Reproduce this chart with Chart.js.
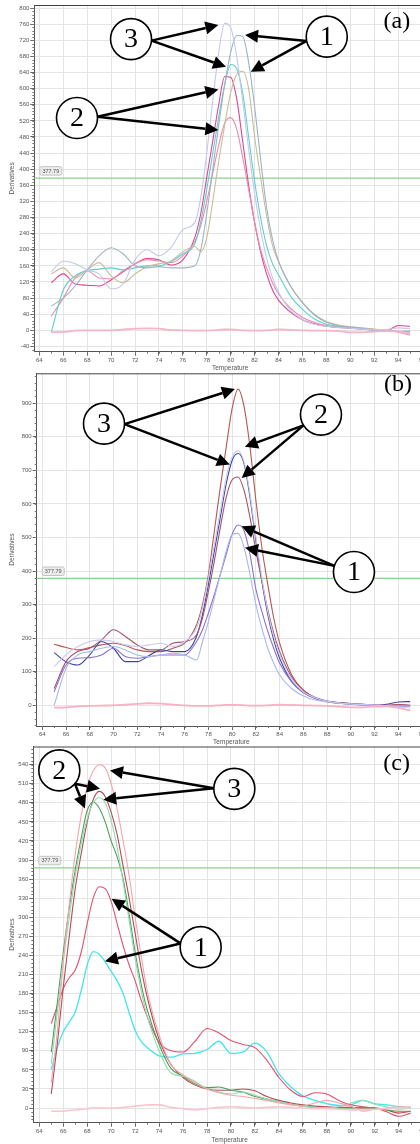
<!DOCTYPE html>
<html>
<head>
<meta charset="utf-8">
<script src="https://cdn.jsdelivr.net/npm/chart.js@4.4.0/dist/chart.umd.min.js"></script>
<style>
  html, body { margin: 0; padding: 0; background: #fff; overflow: hidden; }
  #wrap { position: relative; width: 420px; height: 1144px; overflow: hidden; }
  .panel { position: absolute; left: 0; }
  .panel canvas { display: block; }
</style>
</head>
<body>
<div id="wrap">
  <div class="panel" style="top:0"><canvas id="chartA" width="426" height="372"></canvas></div>
  <div class="panel" style="top:372px"><canvas id="chartB" width="426" height="374"></canvas></div>
  <div class="panel" style="top:746px"><canvas id="chartC" width="426" height="398"></canvas></div>
</div>
<script>
// ---- data ----
const THRESHOLD = 377.79;
const xTicks = [64, 66, 68, 70, 72, 74, 76, 78, 80, 82, 84, 86, 88, 90, 92, 94, 96];
const yTicksA = [-40, 0, 40, 80, 120, 160, 200, 240, 280, 320, 360, 400, 440, 480, 520, 560, 600, 640, 680, 720, 760, 800];
const yTicksB = [0, 100, 200, 300, 400, 500, 600, 700, 800, 900];
const yTicksC = [0, 30, 60, 90, 120, 150, 180, 210, 240, 270, 300, 330, 360, 390, 420, 450, 480, 510, 540];

// temperatures for panels (a) and (b)
const tempAB = [65, 66, 67, 68, 69, 70, 71, 72, 73, 74, 75, 76, 77, 77.5, 78, 78.5, 79, 79.5, 80, 80.5, 81, 81.5, 82, 82.5, 83, 83.5, 84, 85, 86, 87, 88, 89, 90, 91, 92, 93, 94, 95];
// temperatures for panel (c)
const tempC = [65, 65.5, 66, 66.5, 67, 67.5, 68, 68.5, 69, 69.5, 70, 70.5, 71, 71.5, 72, 72.5, 73, 74, 75, 76, 77, 78, 79, 80, 81, 82, 83, 84, 85, 86, 87, 88, 89, 90, 91, 92, 93, 94, 95];

// panel (a)
const aLavender = [145, 172, 165, 150, 140, 103, 115, 175, 200, 185, 205, 250, 268, 330, 440, 570, 690, 762, 752, 680, 570, 450, 340, 250, 180, 130, 95, 50, 27, 15, 10, 7, 5, 3, 2, 2, 6, 4];
const aSage = [60, 80, 110, 150, 185, 205, 190, 160, 155, 158, 155, 155, 160, 200, 290, 400, 510, 610, 690, 732, 730, 665, 555, 425, 305, 225, 172, 110, 68, 38, 20, 12, 8, 5, 2, 0, -2, -3];
const aKhaki = [140, 155, 130, 150, 168, 135, 118, 140, 158, 165, 172, 195, 208, 195, 230, 320, 420, 510, 590, 635, 643, 600, 480, 380, 285, 210, 170, 110, 70, 40, 22, 13, 9, 6, 3, 0, -3, -5];
const aCyan = [-5, 100, 135, 148, 152, 155, 150, 155, 160, 160, 170, 190, 215, 270, 350, 440, 530, 610, 660, 650, 590, 480, 370, 280, 210, 165, 138, 85, 52, 28, 15, 10, 6, 3, 0, -2, -3, -2];
const aMagenta = [118, 140, 115, 112, 110, 125, 145, 165, 178, 175, 162, 175, 230, 290, 380, 470, 560, 630, 628, 575, 470, 360, 268, 195, 140, 100, 75, 45, 26, 16, 10, 7, 5, 3, 1, -2, 12, 10];
const aPink = [35, 80, 130, 148, 130, 128, 148, 165, 175, 172, 168, 185, 220, 260, 320, 390, 460, 515, 528, 500, 430, 350, 268, 200, 155, 118, 90, 55, 32, 20, 12, 9, 7, 5, 2, 0, -5, -12];
const aBase = [-5, -4, -1, 0, 0, 0, 2, 4, 5, 4, 1, 0, -1, -1, -1, 0, 1, 2, 2, 1, 0, -1, -1, -1, 0, 1, 2, 1, 0, -1, -1, -2, -5, -5, -3, -2, -3, -8];

// panel (b)
const bBrown = [182, 172, 165, 172, 180, 185, 178, 165, 160, 160, 170, 185, 240, 300, 390, 520, 650, 770, 885, 942, 890, 770, 610, 470, 360, 260, 185, 92, 45, 22, 12, 8, 5, 3, 1, 0, 2, 0];
const bMauve = [50, 130, 160, 170, 195, 225, 205, 180, 165, 165, 185, 190, 210, 260, 340, 430, 530, 620, 672, 680, 640, 560, 460, 370, 285, 215, 160, 85, 45, 23, 13, 8, 5, 3, 1, 0, 2, 0];
const bNavy = [157, 130, 120, 150, 190, 170, 130, 130, 148, 165, 160, 160, 205, 270, 360, 460, 560, 660, 730, 750, 720, 620, 490, 370, 270, 195, 140, 72, 38, 20, 11, 6, 3, 1, -1, 3, 10, 11];
const bLight = [115, 150, 175, 190, 195, 190, 180, 175, 180, 185, 175, 190, 230, 290, 380, 480, 580, 680, 740, 758, 725, 630, 500, 380, 280, 205, 150, 78, 40, 22, 12, 7, 4, 2, 0, -2, -5, -8];
const bPurple = [40, 120, 140, 142, 150, 170, 145, 140, 145, 150, 150, 150, 190, 225, 275, 330, 390, 450, 510, 537, 520, 450, 345, 280, 220, 170, 125, 70, 38, 22, 12, 7, 4, 2, 0, -2, -3, -3];
const bPeriwinkle = [0, 110, 150, 160, 170, 175, 165, 150, 145, 150, 155, 150, 135, 190, 250, 320, 390, 460, 508, 512, 470, 390, 300, 230, 170, 125, 90, 50, 28, 16, 10, 6, 4, 2, 0, -1, -2, -2];
const bBase = [-7, -6, -3, -2, -1, 0, 2, 4, 6, 5, 2, 0, -2, -2, -2, -1, 0, 1, 1, 1, 0, -1, -1, -1, 0, 1, 2, 1, 0, -1, -2, -4, -6, -6, -4, -3, -8, -15];

// panel (c)
const cPinkLight = [40, 120, 230, 320, 400, 460, 505, 530, 540, 535, 510, 470, 420, 365, 300, 240, 185, 115, 68, 52, 40, 30, 24, 20, 18, 15, 12, 8, 5, 3, 8, 12, 8, 3, -5, -2, 0, 2, 2];
const cDarkRed = [22, 100, 190, 270, 345, 400, 450, 485, 498, 490, 465, 430, 380, 330, 275, 220, 175, 108, 68, 48, 36, 30, 28, 28, 30, 27, 18, 12, 8, 5, 3, 2, 1, 1, 0, 0, -3, -8, -5];
const cMint = [70, 150, 230, 300, 365, 415, 455, 480, 488, 480, 452, 410, 355, 295, 235, 185, 145, 90, 55, 50, 42, 30, 25, 22, 25, 20, 14, 10, 6, 3, 1, 0, 2, 8, 12, 6, 2, -2, 0];
const cGreen = [88, 165, 245, 315, 375, 425, 468, 481, 472, 450, 420, 395, 360, 305, 245, 195, 155, 100, 62, 50, 38, 32, 33, 28, 25, 18, 14, 10, 6, 3, 1, 0, 0, 0, 1, 0, -3, -5, -5];
const cRed = [133, 160, 188, 205, 217, 245, 290, 330, 348, 345, 325, 290, 255, 225, 200, 170, 144, 103, 90, 88, 105, 125, 118, 106, 100, 95, 75, 48, 28, 18, 24, 22, 12, 5, 2, 0, -6, -13, -8];
const cCyan = [60, 95, 120, 135, 151, 185, 225, 246, 242, 230, 215, 200, 180, 150, 122, 105, 95, 82, 80, 85, 86, 92, 105, 86, 88, 102, 88, 54, 33, 19, 12, 7, 4, 5, 12, 7, 5, 2, 0];
const cBase = [-5, -5, -5, -4, -3, -2, -1, 0, 0, 0, 0, 0, 1, 2, 3, 4, 5, 5, 1, -1, -3, -1, 1, 2, 1, 0, 1, 2, 1, 0, -1, -1, -2, -3, -3, -2, -1, 0, 1];

// annotation marks, in data units: circle centres and arrow tips
const annotA = {
  label: {t: 93.9, v: 766, text: '(a)'},
  circles: [
    {t: 71.67, v: 723, text: '3', tips: [[78.97, 758], [79.61, 654]]},
    {t: 67.15, v: 527, text: '2', tips: [[78.97, 598], [78.97, 497]]},
    {t: 88.03, v: 729, text: '1', tips: [[81.2, 733], [81.68, 642]]}
  ]
};
const annotB = {
  label: {t: 93.97, v: 954, text: '(b)'},
  circles: [
    {t: 69.2, v: 839, text: '3', tips: [[80.23, 942], [79.8, 717]]},
    {t: 87.48, v: 866, text: '2', tips: [[81.07, 770], [80.8, 677]]},
    {t: 90.26, v: 397, text: '1', tips: [[80.8, 533], [81.08, 469]]}
  ]
};
const annotC = {
  label: {t: 93.83, v: 541, text: '(c)'},
  circles: [
    {t: 65.67, v: 531, text: '2', tips: [[69.07, 502], [67.81, 471]]},
    {t: 80.28, v: 502, text: '3', tips: [[69.9, 531], [69.34, 485]]},
    {t: 77.47, v: 253, text: '1', tips: [[70.04, 329], [69.48, 231]]}
  ]
};

const TICK_FONT = {family: 'Liberation Sans', size: 6};
const TITLE_FONT = {family: 'Liberation Sans', size: 6.5};

function drawArrow(ctx, x1, y1, x2, y2) {
    const ang = Math.atan2(y2 - y1, x2 - x1);
    const head = 13, hw = 6.5;
    const bx = x2 - head * Math.cos(ang), by = y2 - head * Math.sin(ang);
    ctx.beginPath();
    ctx.moveTo(x1, y1);
    ctx.lineTo(bx, by);
    ctx.stroke();
    ctx.beginPath();
    ctx.moveTo(x2, y2);
    ctx.lineTo(bx + hw * Math.sin(ang), by - hw * Math.cos(ang));
    ctx.lineTo(bx - hw * Math.sin(ang), by + hw * Math.cos(ang));
    ctx.closePath();
    ctx.fill();
}

// threshold line, frame, minor ticks and the circled-number notes
const overlay = {
    id: 'overlay',
    beforeDatasetsDraw(chart, args, opts) {
        const {ctx, chartArea: a, scales: {x, y}} = chart;
        const ty = y.getPixelForValue(THRESHOLD);
        ctx.save();
        ctx.strokeStyle = '#8cd08c';
        ctx.lineWidth = 1.2;
        ctx.beginPath();
        ctx.moveTo(a.left, ty);
        ctx.lineTo(a.right, ty);
        ctx.stroke();
        ctx.restore();
    },
    afterDatasetsDraw(chart, args, opts) {
        const {ctx, chartArea: a, scales: {x, y}} = chart;
        ctx.save();
        // frame top
        ctx.strokeStyle = '#444';
        ctx.lineWidth = 1;
        ctx.beginPath();
        ctx.moveTo(a.left, a.top + 0.5);
        ctx.lineTo(a.right, a.top + 0.5);
        ctx.stroke();
        // minor ticks on y
        ctx.strokeStyle = '#777';
        const step = opts.minorY;
        for (let v = Math.ceil(y.min / step) * step; v <= y.max; v += step) {
            const py = Math.round(y.getPixelForValue(v)) + 0.5;
            ctx.beginPath();
            ctx.moveTo(a.left - 2, py);
            ctx.lineTo(a.left, py);
            ctx.stroke();
        }
        for (let v = Math.ceil(x.min); v <= x.max; v += 1) {
            const px = Math.round(x.getPixelForValue(v)) + 0.5;
            ctx.beginPath();
            ctx.moveTo(px, a.bottom);
            ctx.lineTo(px, a.bottom + 2);
            ctx.stroke();
        }
        // threshold value box
        const ty = y.getPixelForValue(THRESHOLD);
        ctx.fillStyle = '#ececec';
        ctx.strokeStyle = '#c4c4c4';
        ctx.beginPath();
        ctx.roundRect(a.left + 5.5, ty - 11.5, 22, 8.5, 1.5);
        ctx.fill();
        ctx.stroke();
        ctx.fillStyle = '#555';
        ctx.font = '5.5px "Liberation Sans"';
        ctx.textAlign = 'center';
        ctx.textBaseline = 'middle';
        ctx.fillText(THRESHOLD.toFixed(2), a.left + 16.5, ty - 7);
        ctx.restore();
    },
    afterDraw(chart, args, opts) {
        const {ctx, scales: {x, y}} = chart;
        const note = opts.annot;
        const r = 20.5;
        ctx.save();
        ctx.fillStyle = '#000';
        ctx.strokeStyle = '#000';
        note.circles.forEach(c => {
            const cx = x.getPixelForValue(c.t), cy = y.getPixelForValue(c.v);
            const tips = c.tips.map(p => [x.getPixelForValue(p[0]), y.getPixelForValue(p[1])]);
            const mx = tips.reduce((s, p) => s + p[0], 0) / tips.length;
            const my = tips.reduce((s, p) => s + p[1], 0) / tips.length;
            const ang = Math.atan2(my - cy, mx - cx);
            const sx = cx + r * Math.cos(ang), sy = cy + r * Math.sin(ang);
            ctx.lineWidth = 2.5;
            tips.forEach(p => drawArrow(ctx, sx, sy, p[0], p[1]));
            ctx.beginPath();
            ctx.arc(cx, cy, r, 0, Math.PI * 2);
            ctx.fillStyle = '#fff';
            ctx.fill();
            ctx.lineWidth = 1.6;
            ctx.stroke();
            ctx.fillStyle = '#000';
            ctx.font = '28px "Liberation Serif"';
            ctx.textAlign = 'center';
            ctx.textBaseline = 'middle';
            ctx.fillText(c.text, cx, cy + 1);
        });
        ctx.font = '24px "Liberation Serif"';
        ctx.textAlign = 'center';
        ctx.textBaseline = 'middle';
        ctx.fillText(note.label.text, x.getPixelForValue(note.label.t), y.getPixelForValue(note.label.v));
        ctx.restore();
    }
};

function makeChart(id, p) {
    const datasets = p.series.map(s => ({
        data: p.temps.map((t, i) => ({x: t, y: s.values[i]})),
        borderColor: s.color,
        borderWidth: s.width || 1.1,
        pointRadius: 0,
        fill: false,
        cubicInterpolationMode: 'monotone'
    }));
    return new Chart(document.getElementById(id), {
        type: 'line',
        data: {datasets: datasets},
        options: {
            responsive: false,
            animation: false,
            devicePixelRatio: 1,
            events: [],
            layout: {padding: {top: p.padTop, left: 0, right: 0, bottom: 0}},
            plugins: {
                legend: {display: false},
                tooltip: {enabled: false},
                overlay: {annot: p.annot, minorY: p.minorY}
            },
            scales: {
                x: {
                    type: 'linear',
                    min: p.xMin,
                    max: p.xMax,
                    afterBuildTicks: s => { s.ticks = xTicks.map(v => ({value: v})); },
                    afterFit: s => { s.height = p.bottomH; s.paddingLeft = 0; s.paddingRight = 0; },
                    grid: {color: '#e4e4e4', tickColor: '#666', tickLength: 4},
                    border: {color: '#555'},
                    ticks: {font: TICK_FONT, color: '#555', padding: 1, maxRotation: 0, autoSkip: false},
                    title: {display: true, text: 'Temperature', font: TITLE_FONT, color: '#555', padding: {top: 0, bottom: 0}}
                },
                y: {
                    type: 'linear',
                    min: p.yMin,
                    max: p.yMax,
                    afterBuildTicks: s => { s.ticks = p.yTicks.map(v => ({value: v})); },
                    afterFit: s => { s.width = p.leftW; s.paddingTop = 0; s.paddingBottom = 0; },
                    grid: {color: '#e4e4e4', tickColor: '#666', tickLength: 4},
                    border: {color: '#555'},
                    ticks: {font: TICK_FONT, color: '#555', padding: 1},
                    title: {display: true, text: 'Derivatives', font: TITLE_FONT, color: '#555', padding: {top: 8, bottom: 0}}
                }
            }
        },
        plugins: [overlay]
    });
}

makeChart('chartA', {
    temps: tempAB, padTop: 5, bottomH: 20.3, leftW: 34.3,
    xMin: 63.58, xMax: 96.33, yMin: -53.1, yMax: 807.6, yTicks: yTicksA, minorY: 8, annot: annotA,
    series: [
        {values: aBase, color: '#f7b4c6', width: 1.8},
        {values: aLavender, color: '#c3c9ea'},
        {values: aSage, color: '#9db3c4'},
        {values: aKhaki, color: '#c8be96'},
        {values: aCyan, color: '#5fcfcf'},
        {values: aPink, color: '#ee88b2'},
        {values: aMagenta, color: '#e0458e'}
    ]
});

makeChart('chartB', {
    temps: tempAB, padTop: 1.3, bottomH: 20, leftW: 36.7,
    xMin: 63.53, xMax: 96.33, yMin: -61.7, yMax: 989, yTicks: yTicksB, minorY: 20, annot: annotB,
    series: [
        {values: bBase, color: '#f8b0c2', width: 1.8},
        {values: bLight, color: '#c8caf2'},
        {values: bPeriwinkle, color: '#a9b8ec'},
        {values: bPurple, color: '#8a70d6'},
        {values: bMauve, color: '#a5536c'},
        {values: bNavy, color: '#3f47a0'},
        {values: bBrown, color: '#b5584e'}
    ]
});

makeChart('chartC', {
    temps: tempC, padTop: 0.5, bottomH: 21.3, leftW: 33.3,
    xMin: 63.5, xMax: 96.28, yMin: -23.1, yMax: 568.6, yTicks: yTicksC, minorY: 6, annot: annotC,
    series: [
        {values: cBase, color: '#f9c6d0', width: 1.6},
        {values: cPinkLight, color: '#f6a5aa'},
        {values: cMint, color: '#90dcb2'},
        {values: cGreen, color: '#4f9f57'},
        {values: cDarkRed, color: '#b64a56'},
        {values: cRed, color: '#e5506f'},
        {values: cCyan, color: '#3fe6ec', width: 1.3}
    ]
});
</script>
</body>
</html>
